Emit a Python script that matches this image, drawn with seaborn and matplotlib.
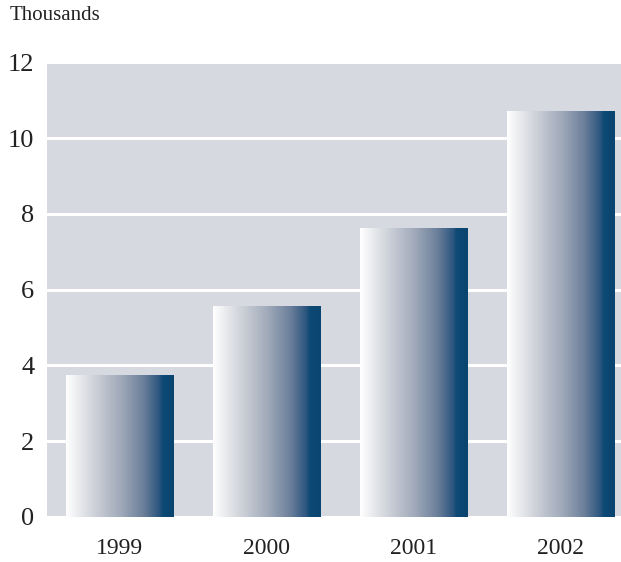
import matplotlib
matplotlib.use("Agg")
import matplotlib.pyplot as plt
import seaborn as sns
import numpy as np
import pandas as pd
from matplotlib.colors import LinearSegmentedColormap

years = ["1999", "2000", "2001", "2002"]
values = [3.73, 5.55, 7.62, 10.71]
yticks = [0, 2, 4, 6, 8, 10, 12]
unit_label = "Thousands"

df = pd.DataFrame({"year": years, "value": values})

sns.set_theme(style="white")
plt.rcParams['font.family'] = ['Liberation Serif', 'DejaVu Serif']

fig = plt.figure(figsize=(6.21, 5.62), dpi=100)
ax = fig.add_axes([0.0752, 0.0801, 0.9240, 0.8087])
ax.set_facecolor('#d6d9e0')

sns.barplot(data=df, x="year", y="value", ax=ax, width=0.73, color="#0a4570",
            errorbar=None, zorder=3)

cmap = LinearSegmentedColormap.from_list(
    "grad", [(0.0, '#ffffff'), (0.22, '#d6d9de'), (0.5, '#a2abbb'),
             (0.72, '#6b7f9a'), (0.86, '#2f5780'), (0.9, '#0c4974'), (1.0, '#0a4570')])
grad = np.linspace(0, 1, 256).reshape(1, -1)
for p in ax.patches:
    x0, y0 = p.get_x(), p.get_y()
    w, h = p.get_width(), p.get_height()
    im = ax.imshow(grad, cmap=cmap, aspect='auto', extent=(x0, x0 + w, y0, y0 + h),
                   zorder=3, interpolation='bicubic')
    p.set_facecolor('none')
    p.set_edgecolor('none')

ax.set_xlim(-0.494, 3.41)
ax.set_ylim(0, 12)
ax.set_yticks(yticks)
ax.set_yticklabels([str(t) for t in yticks])
ax.yaxis.grid(True, color='white', linewidth=2.2, zorder=1)
ax.set_axisbelow(True)
for s in ax.spines.values():
    s.set_visible(False)
ax.tick_params(axis='y', length=0, pad=9, labelsize=19, labelcolor='#222222')
ax.tick_params(axis='x', length=0, pad=15, labelsize=17, labelcolor='#222222')
ax.set_xlabel("")
ax.set_ylabel("")

fig.text(10 / 621, 1 - 16 / 562, unit_label, fontsize=15, color='#222222',
         ha='left', va='center')

fig.savefig("out.png", dpi=100)
